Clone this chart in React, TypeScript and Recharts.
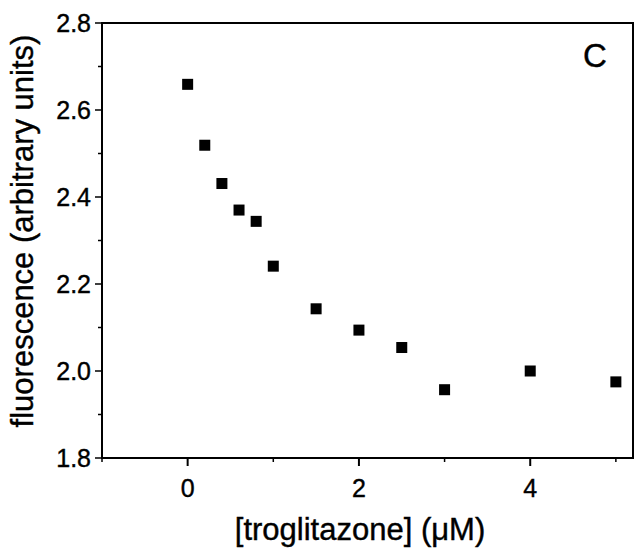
import React from 'react';
import { ScatterChart, Scatter, XAxis, YAxis, ReferenceArea } from 'recharts';

// troglitazone concentration (uM) and measured fluorescence
const concentrations = [0, 0.2, 0.4, 0.6, 0.8, 1.0, 1.5, 2, 2.5, 3, 4, 5];
const fluorescence = [2.659, 2.519, 2.431, 2.37, 2.344, 2.241, 2.143, 2.094, 2.054, 1.957, 2.0, 1.975];

const xTicks = [-1, 0, 1, 2, 3, 4, 5];
const xLabeled = [0, 2, 4];
const yTicks = [1.8, 1.9, 2.0, 2.1, 2.2, 2.3, 2.4, 2.5, 2.6, 2.7, 2.8];
const yLabeled = [1.8, 2.0, 2.2, 2.4, 2.6, 2.8];

const xLabel = '[troglitazone] (\u03bcM)';
const yLabel = 'fluorescence (arbitrary units)';
const panelLetter = 'C';

const data = concentrations.map((c, i) => ({ x: c, y: fluorescence[i] }));

const FONT = '"Liberation Sans", Arial, Helvetica, sans-serif';
const X_DOMAIN: [number, number] = [-1, 5.2];
const Y_DOMAIN: [number, number] = [1.8, 2.8];

// slight outline so the text has the weight of the scanned original
const textInk = { fill: '#000', stroke: '#000', strokeWidth: 0.4 };

const isLabeled = (list: number[], v: number) => list.some((t) => Math.abs(t - v) < 1e-6);

// bottom ticks: long tick + label on even values, short tick otherwise
const XTick = (props: any) => {
  const { x, y, payload } = props;
  const major = isLabeled(xLabeled, payload.value);
  return (
    <g>
      <line x1={x} y1={y} x2={x} y2={y + (major ? 8 : 4)} stroke="#000" strokeWidth={major ? 2 : 1.5} />
      {major && (
        <text x={x} y={y + 39} textAnchor="middle" fontFamily={FONT} fontSize={25} {...textInk}>
          {payload.value}
        </text>
      )}
    </g>
  );
};

const YTick = (props: any) => {
  const { x, y, payload } = props;
  const major = isLabeled(yLabeled, payload.value);
  return (
    <g>
      <line x1={x - (major ? 7 : 4)} y1={y} x2={x} y2={y} stroke="#000" strokeWidth={1.5} />
      {major && (
        <text x={x - 11} y={y + 9} textAnchor="end" fontFamily={FONT} fontSize={25} {...textInk}>
          {payload.value.toFixed(1)}
        </text>
      )}
    </g>
  );
};

// filled square marker
const Square = ({ cx, cy }: { cx?: number; cy?: number }) => {
  if (cx == null || cy == null) return null;
  return <rect x={cx - 5.5} y={cy - 5.5} width={11} height={11} fill="#000" />;
};

export default function App() {
  return (
    <div style={{ position: 'absolute', left: 0, top: 0, width: 644, height: 558, background: '#fff' }}>
      <ScatterChart width={644} height={558} margin={{ top: 23, right: 11, bottom: 0, left: 0 }}>
        <XAxis
          type="number"
          dataKey="x"
          domain={X_DOMAIN}
          ticks={xTicks}
          height={100}
          tickSize={0}
          tickMargin={0}
          tickLine={false}
          tick={<XTick />}
          axisLine={{ stroke: '#000', strokeWidth: 2 }}
          interval={0}
          allowDataOverflow
        />
        <YAxis
          type="number"
          dataKey="y"
          domain={Y_DOMAIN}
          ticks={yTicks}
          width={102}
          tickSize={0}
          tickMargin={0}
          tickLine={false}
          tick={<YTick />}
          axisLine={{ stroke: '#000', strokeWidth: 2 }}
          interval={0}
          allowDataOverflow
        />
        {/* plot frame (top and right edges) */}
        <ReferenceArea
          x1={X_DOMAIN[0]}
          x2={X_DOMAIN[1]}
          y1={Y_DOMAIN[0]}
          y2={Y_DOMAIN[1]}
          fill="none"
          fillOpacity={0}
          stroke="#000"
          strokeWidth={2}
          ifOverflow="visible"
        />
        <Scatter data={data} fill="#000" shape={<Square />} isAnimationActive={false} />
        <text x={360} y={540} textAnchor="middle" fontFamily={FONT} fontSize={31} {...textInk}>
          {xLabel}
        </text>
        <text
          x={33}
          y={231}
          textAnchor="middle"
          fontFamily={FONT}
          fontSize={31}
          transform="rotate(-90 33 231)"
          {...textInk}
        >
          {yLabel}
        </text>
        <text x={595} y={67} textAnchor="middle" fontFamily={FONT} fontSize={33} {...textInk}>
          {panelLetter}
        </text>
      </ScatterChart>
    </div>
  );
}
